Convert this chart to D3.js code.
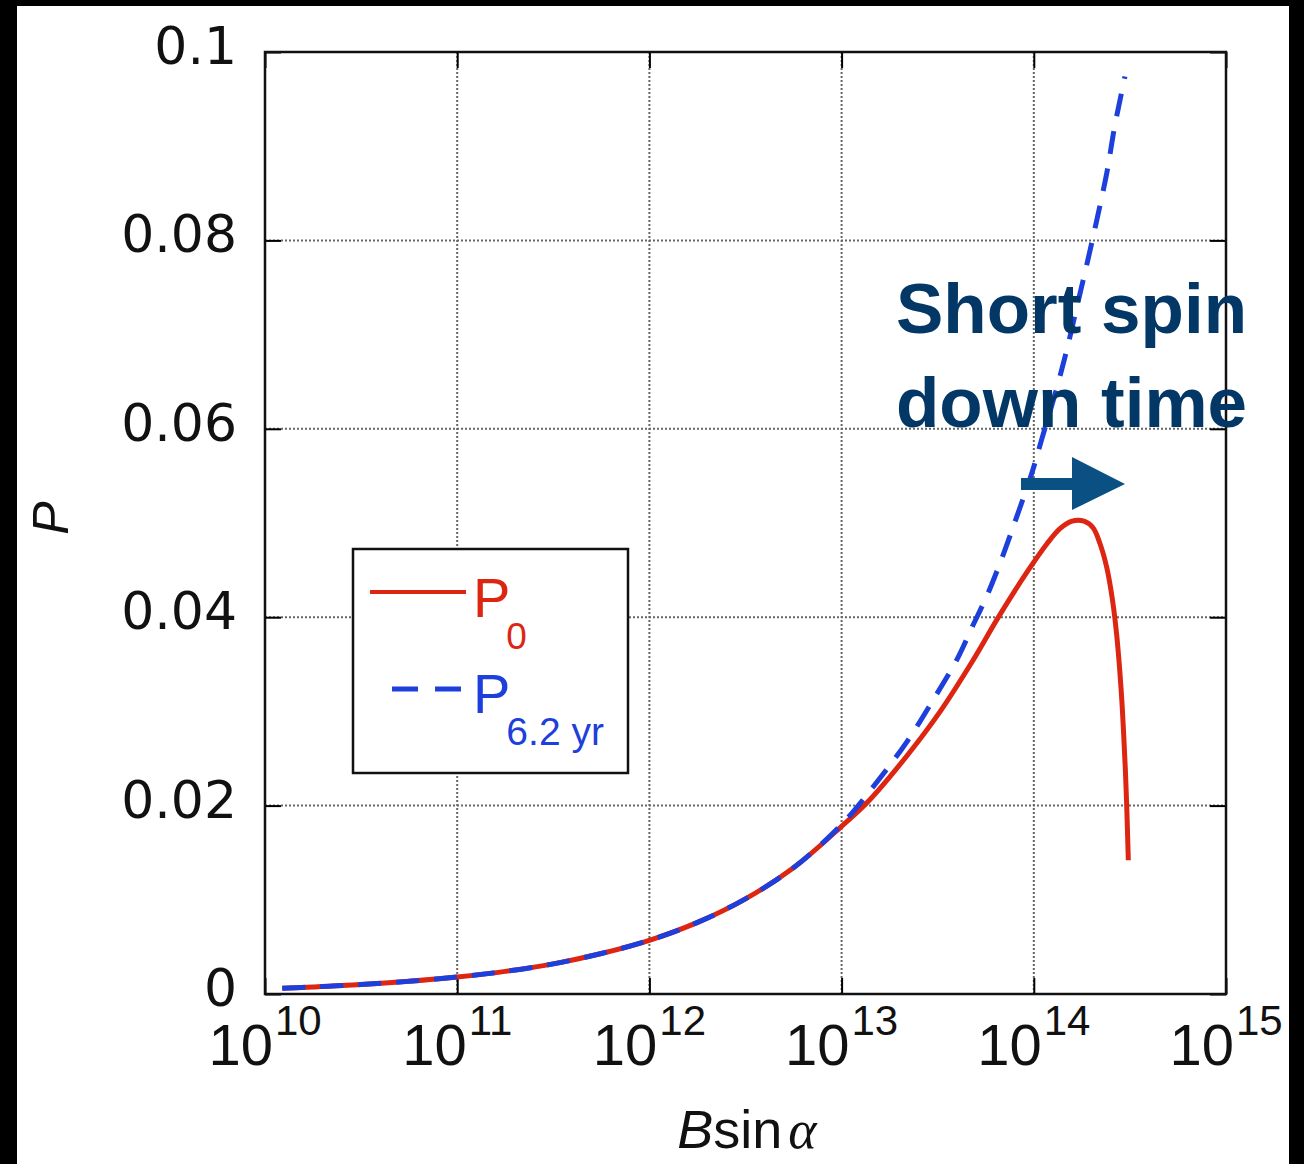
<!DOCTYPE html>
<html><head><meta charset="utf-8">
<script src="https://cdn.jsdelivr.net/npm/d3@7"></script>
<style>body{margin:0;background:#fff}</style></head>
<body>
<svg id="c" width="1304" height="1164"></svg>
<script>
// ---- data ----
const xTickExps = [10, 11, 12, 13, 14, 15];
const yTicks = [0, 0.02, 0.04, 0.06, 0.08, 0.1];
const yTickLabels = ["0", "0.02", "0.04", "0.06", "0.08", "0.1"];

const seriesNames = ["P0", "P6.2yr"];

const bP0 = [1.23e10, 1.78e10, 3.16e10, 5.62e10, 1.0e11, 1.78e11, 3.16e11, 5.62e11,
  1.0e12, 1.78e12, 3.16e12, 5.62e12, 1.0e13, 1.37e13, 2.21e13,
  3.26e13, 4.82e13, 6.45e13, 9.23e13, 1.171e14, 1.368e14, 1.580e14, 1.825e14, 2.033e14,
  2.211e14, 2.395e14, 2.568e14, 2.694e14, 2.792e14, 2.870e14, 2.933e14, 2.990e14,
  3.040e14, 3.103e14];
const pP0 = [0.00062, 0.00075, 0.00100, 0.00135, 0.0018, 0.0024, 0.0032, 0.0043,
  0.0057, 0.0076, 0.0101, 0.0134, 0.0178, 0.0204, 0.0254,
  0.0300, 0.0354, 0.0398, 0.0448, 0.0478, 0.0494, 0.0502, 0.0502, 0.0495,
  0.0478, 0.0453, 0.0418, 0.0383, 0.0347, 0.0312, 0.0277, 0.0241,
  0.0203, 0.0142];

const bP62 = [1.23e10, 1.78e10, 3.16e10, 5.62e10, 1.0e11, 1.78e11, 3.16e11, 5.62e11,
  1.0e12, 1.78e12, 3.16e12, 5.62e12, 1.0e13, 1.46e13, 2.19e13,
  2.99e13, 3.98e13, 4.79e13, 5.71e13, 6.92e13, 8.13e13, 9.77e13, 1.10e14, 1.32e14,
  1.51e14, 1.70e14, 1.91e14, 2.14e14, 2.40e14, 2.63e14, 2.98e14];
const pP62 = [0.00062, 0.00075, 0.00100, 0.00135, 0.0018, 0.0024, 0.0032, 0.0043,
  0.0057, 0.0076, 0.0101, 0.0134, 0.0180, 0.0220, 0.0268,
  0.0312, 0.0355, 0.0390, 0.0423, 0.0466, 0.0506, 0.0553, 0.0589, 0.0644,
  0.0690, 0.0735, 0.0779, 0.0824, 0.0872, 0.0920, 0.0974];

// ---- layout ----
const svg = d3.select("#c");
const L = 265, R = 1226, T = 52, B = 994;
const x = d3.scaleLog().domain([1e10, 1e15]).range([L, R]);
const y = d3.scaleLinear().domain([0, 0.1]).range([B, T]);
const RED = "#dc2612", BLUE = "#1d3fdc", NAVY = "#033766", ARROW = "#0a5082";

// black frame edges of the picture
svg.append("rect").attr("x", 0).attr("y", 0).attr("width", 1304).attr("height", 1164).attr("fill", "#fff");
svg.append("rect").attr("x", 0).attr("y", 0).attr("width", 17).attr("height", 1164).attr("fill", "#000");
svg.append("rect").attr("x", 0).attr("y", 0).attr("width", 1304).attr("height", 6).attr("fill", "#000");
svg.append("rect").attr("x", 1289).attr("y", 0).attr("width", 15).attr("height", 1164).attr("fill", "#000");

// grid
const xTickVals = xTickExps.map(e => Math.pow(10, e));
const grid = svg.append("g").attr("stroke", "#666").attr("stroke-width", 2).attr("stroke-dasharray", "2,2");
xTickVals.slice(1, -1).forEach(v => {
  grid.append("line").attr("x1", x(v)).attr("x2", x(v)).attr("y1", T).attr("y2", B);
});
yTicks.slice(1, -1).forEach(v => {
  grid.append("line").attr("x1", L).attr("x2", R).attr("y1", y(v)).attr("y2", y(v));
});

// inward solid ticks via d3 axes
const tk = 16;
svg.append("g").attr("transform", `translate(0,${B})`)
  .call(d3.axisBottom(x).tickValues(xTickVals).tickSize(-tk).tickFormat(""))
  .call(g => g.select(".domain").remove());
svg.append("g").attr("transform", `translate(0,${T})`)
  .call(d3.axisTop(x).tickValues(xTickVals).tickSize(-tk).tickFormat(""))
  .call(g => g.select(".domain").remove());
svg.append("g").attr("transform", `translate(${L},0)`)
  .call(d3.axisLeft(y).tickValues(yTicks).tickSize(-tk).tickFormat(""))
  .call(g => g.select(".domain").remove());
svg.append("g").attr("transform", `translate(${R},0)`)
  .call(d3.axisRight(y).tickValues(yTicks).tickSize(-tk).tickFormat(""))
  .call(g => g.select(".domain").remove());
svg.selectAll(".tick line").attr("stroke", "#000").attr("stroke-width", 2);

// frame
svg.append("rect").attr("x", L).attr("y", T).attr("width", R - L).attr("height", B - T)
  .attr("fill", "none").attr("stroke", "#111").attr("stroke-width", 2.5);

// y tick labels
svg.append("g").selectAll("text").data(yTicks).join("text")
  .attr("x", 237).attr("y", d => y(d) + 12)
  .attr("text-anchor", "end")
  .attr("font-family", "DejaVu Sans").attr("font-size", 52).attr("fill", "#111")
  .text((d, i) => yTickLabels[i]);

// x tick labels with superscripts
const xl = svg.append("g").attr("font-family", "Liberation Sans").attr("fill", "#111");
xTickExps.forEach((e, i) => {
  const t = xl.append("text").attr("x", x(xTickVals[i])).attr("y", 1065).attr("text-anchor", "middle");
  t.append("tspan").attr("font-size", 58).text("10");
  t.append("tspan").attr("font-size", 42).attr("dx", 2).attr("dy", -30).text(String(e));
});

// axis titles
const xt = svg.append("text").attr("x", 747).attr("y", 1148).attr("text-anchor", "middle")
  .attr("font-family", "Liberation Sans").attr("font-size", 54).attr("fill", "#111");
xt.append("tspan").attr("font-style", "italic").text("B");
xt.append("tspan").text("sin");
xt.append("tspan").attr("dx", 6).attr("font-family", "Liberation Serif").attr("font-style", "italic").text("α");

svg.append("text").attr("transform", "translate(68,518) rotate(-90)")
  .attr("text-anchor", "middle").attr("font-family", "Liberation Sans").attr("font-style", "italic")
  .attr("font-size", 50).attr("fill", "#111").text("P");

// curves
const line = d3.line().x(d => x(d[0])).y(d => y(d[1])).curve(d3.curveCatmullRom.alpha(0.5));
const d0 = bP0.map((b, i) => [b, pP0[i]]);
const d62 = bP62.map((b, i) => [b, pP62[i]]);
svg.append("path").attr("d", line(d0)).attr("fill", "none").attr("stroke", RED)
  .attr("stroke-width", 5).attr("stroke-linejoin", "round");
svg.append("path").attr("d", line(d62)).attr("fill", "none").attr("stroke", BLUE)
  .attr("stroke-width", 5).attr("stroke-dasharray", "23,15");

// legend
const lg = svg.append("g");
lg.append("rect").attr("x", 353).attr("y", 549).attr("width", 275).attr("height", 224)
  .attr("fill", "#fff").attr("stroke", "#111").attr("stroke-width", 2.5);
lg.append("line").attr("x1", 370).attr("x2", 466).attr("y1", 592).attr("y2", 592)
  .attr("stroke", RED).attr("stroke-width", 4);
lg.append("line").attr("x1", 392).attr("x2", 462).attr("y1", 689).attr("y2", 689)
  .attr("stroke", BLUE).attr("stroke-width", 5).attr("stroke-dasharray", "26,17");
const l1 = lg.append("text").attr("x", 473).attr("y", 617).attr("font-family", "Liberation Sans").attr("fill", RED);
l1.append("tspan").attr("font-size", 56).text("P");
l1.append("tspan").attr("font-size", 37).attr("dy", 32).attr("dx", -4).text("0");
const l2 = lg.append("text").attr("x", 473).attr("y", 713).attr("font-family", "Liberation Sans").attr("fill", BLUE);
l2.append("tspan").attr("font-size", 56).text("P");
l2.append("tspan").attr("font-size", 39).attr("dy", 32).attr("dx", -4).text("6.2 yr");

// annotation
const an = svg.append("g").attr("font-family", "Liberation Sans").attr("font-weight", "bold")
  .attr("font-size", 71).attr("fill", NAVY);
an.append("text").attr("x", 896).attr("y", 333).text("Short spin");
an.append("text").attr("x", 896).attr("y", 427).text("down time");
svg.append("path")
  .attr("d", "M1021,478 L1072,478 L1072,457 L1125,484 L1072,510 L1072,490 L1021,490 Z")
  .attr("fill", ARROW);
</script>
</body></html>
